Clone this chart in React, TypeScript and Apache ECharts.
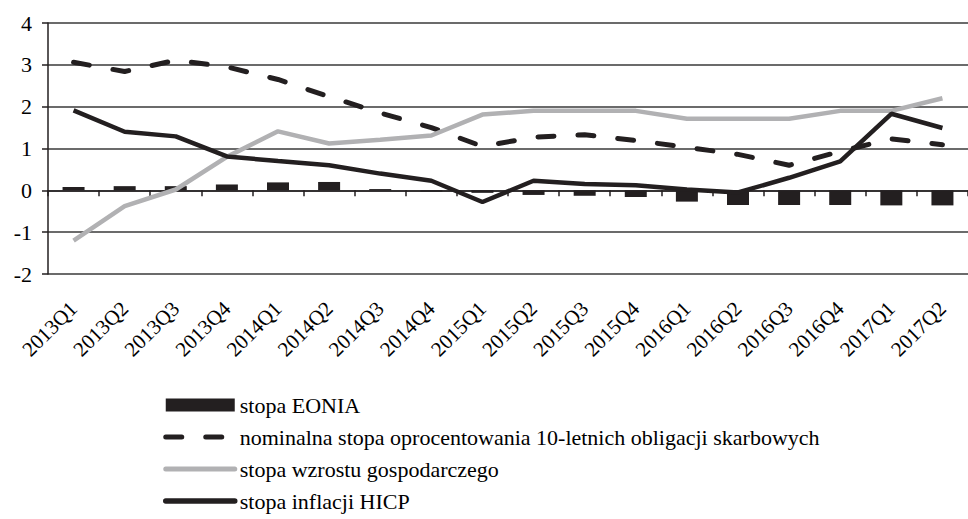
import React, { useEffect, useRef } from "react";
import * as echarts from "echarts";

const categories = [
  "2013Q1", "2013Q2", "2013Q3", "2013Q4",
  "2014Q1", "2014Q2", "2014Q3", "2014Q4",
  "2015Q1", "2015Q2", "2015Q3", "2015Q4",
  "2016Q1", "2016Q2", "2016Q3", "2016Q4",
  "2017Q1", "2017Q2",
];

const eonia = [0.08, 0.1, 0.1, 0.14, 0.19, 0.2, 0.03, -0.03, -0.06, -0.11, -0.13, -0.16, -0.27, -0.35, -0.35, -0.35, -0.36, -0.36];
const bondYield = [3.06, 2.84, 3.11, 2.95, 2.65, 2.24, 1.85, 1.5, 1.05, 1.27, 1.33, 1.19, 1.03, 0.86, 0.6, 0.93, 1.23, 1.09];
const gdpGrowth = [-1.2, -0.38, 0.02, 0.8, 1.41, 1.12, 1.21, 1.31, 1.81, 1.9, 1.9, 1.9, 1.71, 1.71, 1.71, 1.9, 1.9, 2.2];
const hicp = [1.91, 1.4, 1.29, 0.81, 0.7, 0.6, 0.4, 0.23, -0.28, 0.23, 0.15, 0.12, 0.02, -0.05, 0.3, 0.69, 1.83, 1.49];

const yMin = -2;
const yMax = 4;
const yStep = 1;

const names = {
  eonia: "stopa EONIA",
  bond: "nominalna stopa oprocentowania 10-letnich obligacji skarbowych",
  gdp: "stopa wzrostu gospodarczego",
  hicp: "stopa inflacji HICP",
};

const FONT = "'Liberation Serif', 'Times New Roman', serif";
const DARK = "#231f20";
const GRAY = "#b1b1b3";
const DASH = [16, 24];

export default function App() {
  const ref = useRef<HTMLDivElement>(null);

  useEffect(() => {
    if (!ref.current) return;
    const chart = echarts.init(ref.current, null, { renderer: "svg" });
    chart.setOption({
      animation: false,
      backgroundColor: "#ffffff",
      textStyle: { fontFamily: FONT },
      grid: { left: 48, right: -7, top: 23, bottom: 245, containLabel: false },
      legend: {
        orient: "vertical",
        left: 163,
        top: 394,
        height: 170,
        padding: 0,
        itemWidth: 69,
        itemHeight: 13,
        itemGap: 10,
        textStyle: { fontFamily: FONT, fontSize: 22, color: "#000" },
        data: [
          { name: names.eonia, icon: "rect", itemStyle: { color: DARK } },
          {
            name: names.bond,
            itemStyle: { opacity: 0 },
            lineStyle: { color: DARK, width: 5, type: DASH, cap: "round", opacity: 1 },
          },
          {
            name: names.gdp,
            itemStyle: { opacity: 0 },
            lineStyle: { color: GRAY, width: 5, cap: "round", opacity: 1 },
          },
          {
            name: names.hicp,
            itemStyle: { opacity: 0 },
            lineStyle: { color: DARK, width: 5.5, cap: "round", opacity: 1 },
          },
        ],
      },
      xAxis: [
        {
          type: "category",
          data: categories,
          position: "bottom",
          boundaryGap: true,
          axisLine: { show: true, onZero: true, lineStyle: { color: DARK, width: 1.5 } },
          axisTick: { show: true, inside: false, length: 6, alignWithLabel: false, lineStyle: { color: DARK, width: 1.5 } },
          axisLabel: { show: false },
          splitLine: { show: false },
        },
        {
          type: "category",
          data: categories,
          position: "bottom",
          boundaryGap: true,
          axisLine: { show: false, onZero: false },
          axisTick: { show: false },
          axisLabel: {
            show: true,
            interval: 0,
            rotate: 45,
            margin: 31,
            fontFamily: FONT,
            fontSize: 21,
            color: "#000",
          },
          splitLine: { show: false },
        },
      ],
      yAxis: {
        type: "value",
        min: yMin,
        max: yMax,
        interval: yStep,
        axisLine: { show: true, lineStyle: { color: DARK, width: 1.5 } },
        axisTick: { show: true, inside: false, length: 6, lineStyle: { color: DARK, width: 1.5 } },
        axisLabel: { margin: 16, fontFamily: FONT, fontSize: 22, color: "#000" },
        splitLine: { show: true, lineStyle: { color: "#3a3a3a", width: 1.5 } },
      },
      series: [
        {
          name: names.eonia,
          type: "bar",
          xAxisIndex: 0,
          data: eonia,
          barWidth: 22,
          itemStyle: { color: DARK },
          z: 2,
        },
        {
          name: names.bond,
          type: "line",
          xAxisIndex: 0,
          data: bondYield,
          symbol: "none",
          showSymbol: false,
          lineStyle: { color: DARK, width: 5, type: DASH, cap: "round" },
          itemStyle: { color: DARK },
          z: 3,
        },
        {
          name: names.gdp,
          type: "line",
          xAxisIndex: 0,
          data: gdpGrowth,
          symbol: "none",
          showSymbol: false,
          lineStyle: { color: GRAY, width: 4.5 },
          itemStyle: { color: GRAY },
          z: 4,
        },
        {
          name: names.hicp,
          type: "line",
          xAxisIndex: 0,
          data: hicp,
          symbol: "none",
          showSymbol: false,
          lineStyle: { color: DARK, width: 4.5 },
          itemStyle: { color: DARK },
          z: 5,
        },
      ],
    });
    return () => chart.dispose();
  }, []);

  return (
    <div
      ref={ref}
      style={{ position: "fixed", left: 0, top: 0, width: 968, height: 519, background: "#fff" }}
    />
  );
}
